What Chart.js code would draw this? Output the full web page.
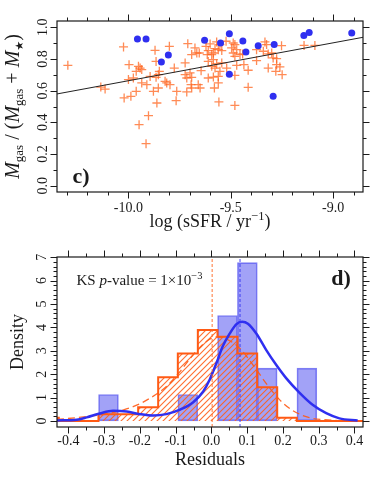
<!DOCTYPE html>
<html>
<head>
<meta charset="utf-8">
<script src="https://cdn.jsdelivr.net/npm/chart.js@4.4.0/dist/chart.umd.min.js"></script>
<style>
  html, body { margin: 0; padding: 0; background: #fff; }
  canvas { position: absolute; left: 0; }
  #topChart { top: 0; }
  #bottomChart { top: 240px; }
</style>
</head>
<body>
<canvas id="topChart" width="374" height="240"></canvas>
<canvas id="bottomChart" width="374" height="241"></canvas>
<script>
// ---- panel c) : gas fraction vs sSFR ----
const crossX = [-10.296, -10.135, -10.114, -10.024, -9.870, -9.800, -9.710, -9.675, -9.666, -9.654,
  -9.691, -9.621, -9.601, -9.610, -9.593, -9.615, -9.569, -9.553, -9.561, -9.577,
  -9.585, -9.544, -9.523, -9.488, -9.480, -9.496, -9.471, -9.488, -9.480, -9.455,
  -9.442, -9.374, -9.333, -9.325, -9.341, -9.317, -9.300, -9.276, -9.252, -9.865,
  -9.997, -9.951, -9.935, -9.943, -9.962, -9.849, -9.854, -9.894, -9.865, -9.976,
  -10.000, -9.776, -9.723, -9.723, -9.715, -9.691, -9.699, -9.645, -9.610, -9.585,
  -9.593, -9.569, -9.544, -9.610, -9.585, -9.561, -9.577, -9.553, -9.520, -9.471,
  -9.436, -9.415, -9.374, -9.317, -9.293, -9.276, -9.260, -9.280, -9.249, -9.480,
  -9.813, -9.797, -9.821, -9.854, -9.878, -9.910, -9.935, -9.764, -9.715, -9.694,
  -9.691, -9.659, -9.650, -9.580, -9.561, -9.415, -9.962, -9.988, -10.021, -9.861,
  -9.767, -9.558, -9.480, -9.902, -9.948, -9.914, -9.142, -9.089];
const crossY = [0.760, 0.623, 0.610, 0.876, 0.855, 0.880, 0.897, 0.870, 0.838, 0.838,
  0.828, 0.880, 0.895, 0.853, 0.828, 0.828, 0.908, 0.891, 0.859, 0.865,
  0.838, 0.853, 0.912, 0.901, 0.891, 0.870, 0.859, 0.838, 0.817, 0.828,
  0.832, 0.859, 0.908, 0.891, 0.849, 0.832, 0.838, 0.802, 0.884, 0.785,
  0.764, 0.754, 0.733, 0.743, 0.722, 0.722, 0.701, 0.690, 0.684, 0.680,
  0.670, 0.743, 0.775, 0.701, 0.680, 0.684, 0.712, 0.726, 0.785, 0.796,
  0.754, 0.769, 0.775, 0.680, 0.686, 0.690, 0.743, 0.722, 0.743, 0.760,
  0.764, 0.729, 0.790, 0.743, 0.807, 0.764, 0.750, 0.722, 0.701, 0.697,
  0.649, 0.638, 0.659, 0.617, 0.596, 0.638, 0.649, 0.596, 0.592, 0.638,
  0.617, 0.638, 0.617, 0.617, 0.649, 0.621, 0.596, 0.564, 0.554, 0.522,
  0.537, 0.529, 0.507, 0.442, 0.385, 0.265, 0.886, 0.886];
const dotX = [-9.956, -9.914, -9.805, -9.839, -9.628, -9.550, -9.507, -9.507,
  -9.441, -9.426, -9.366, -9.288, -9.293, -9.143, -9.117, -8.909];
const dotY = [0.926, 0.926, 0.825, 0.781, 0.918, 0.901, 0.960, 0.703,
  0.914, 0.844, 0.884, 0.891, 0.564, 0.949, 0.968, 0.964];
const fitX = [-10.35, -8.854];
const fitY = [0.579, 0.937];
const ssfrTicks = [-10.0, -9.5, -9.0];
const ssfrLabels = ['-10.0', '-9.5', '-9.0'];
const fracTicks = [0.0, 0.2, 0.4, 0.6, 0.8, 1.0];
const fracLabels = ['0.0', '0.2', '0.4', '0.6', '0.8', '1.0'];

// ---- panel d) : residual histograms ----
const binEdges = [-0.482, -0.427, -0.371, -0.316, -0.260, -0.205, -0.149, -0.094, -0.038,
  0.017, 0.073, 0.128, 0.184, 0.239, 0.295, 0.350, 0.406, 0.461];
const orangeDensity = [0.14, 0, 0, 0.29, 0.29, 0.58, 1.87, 2.88, 3.89, 3.60, 2.88, 1.44, 0.14, 0, 0, 0, 0];
const blueDensity = [0, 0, 0, 1.13, 0, 0, 0, 1.13, 0, 4.51, 6.77, 2.26, 0, 2.26, 0, 0, 0];
const kdeX = [-0.432, -0.377, -0.349, -0.312, -0.275, -0.237, -0.200, -0.163, -0.126, -0.088,
  -0.051, -0.023, -0.005, 0.014, 0.032, 0.051, 0.070, 0.086, 0.102, 0.126,
  0.153, 0.181, 0.209, 0.246, 0.283, 0.321, 0.358, 0.409];
const kdeY = [0.02, 0.05, 0.15, 0.32, 0.43, 0.40, 0.29, 0.23, 0.29, 0.48,
  0.80, 1.26, 1.76, 2.47, 3.20, 3.73, 4.14, 4.24, 4.16, 3.73,
  3.04, 2.40, 1.83, 1.21, 0.69, 0.33, 0.11, 0.02];
const normX = [-0.432, -0.358, -0.284, -0.219, -0.172, -0.126, -0.088, -0.051, -0.014, 0.014,
  0.042, 0.079, 0.116, 0.153, 0.191, 0.228, 0.274, 0.339, 0.424];
const normY = [0.06, 0.17, 0.33, 0.61, 0.97, 1.47, 2.11, 2.83, 3.40, 3.59,
  3.50, 3.11, 2.40, 1.61, 0.90, 0.44, 0.14, 0.03, 0.0];
const orangeMedian = 0.002;
const blueMedian = 0.08;
const residTicks = [-0.4, -0.3, -0.2, -0.1, 0.0, 0.1, 0.2, 0.3, 0.4];
const residLabels = ['-0.4', '-0.3', '-0.2', '-0.1', '0.0', '0.1', '0.2', '0.3', '0.4'];
const densTicks = [0, 1, 2, 3, 4, 5, 6, 7];
const densLabels = ['0', '1', '2', '3', '4', '5', '6', '7'];

const SERIF = '"Liberation Serif", "DejaVu Serif", serif';
const ORANGE = '#ff5a14';
const BLUE = '#2f2ff0';

function pts(xs, ys) { return xs.map((x, i) => ({ x: x, y: ys[i] })); }

// draw a run of text pieces with different fonts / offsets
function rich(ctx, segs, x, y, align, angle) {
  ctx.save();
  ctx.translate(x, y);
  ctx.rotate(angle || 0);
  ctx.textAlign = 'left';
  ctx.textBaseline = 'alphabetic';
  let w = 0;
  segs.forEach(s => { ctx.font = s.f; s.w = ctx.measureText(s.t).width; w += s.w; });
  let cx = align === 'left' ? 0 : -w / 2;
  segs.forEach(s => { ctx.font = s.f; ctx.fillText(s.t, cx, s.dy || 0); cx += s.w; });
  ctx.restore();
}

// frame, ticks on all four sides, tick labels and titles
function axesPlugin(spec) {
  return {
    id: 'axes',
    afterDraw(chart) {
      const { ctx, chartArea: a, scales } = chart;
      const x = scales.x, y = scales.y;
      ctx.save();
      ctx.strokeStyle = '#1a1a1a';
      ctx.fillStyle = '#1a1a1a';
      ctx.lineWidth = 1.2;
      ctx.strokeRect(a.left, a.top, a.right - a.left, a.bottom - a.top);
      ctx.lineWidth = 1;
      ctx.beginPath();
      const xt = (v, len) => {
        const p = Math.round(x.getPixelForValue(v)) + 0.5;
        ctx.moveTo(p, a.bottom); ctx.lineTo(p, a.bottom + len);
        ctx.moveTo(p, a.top); ctx.lineTo(p, a.top - len);
      };
      const yt = (v, len) => {
        const p = Math.round(y.getPixelForValue(v)) + 0.5;
        ctx.moveTo(a.left, p); ctx.lineTo(a.left - len, p);
        ctx.moveTo(a.right, p); ctx.lineTo(a.right + len, p);
      };
      spec.xMajor.forEach(v => xt(v, 6.5));
      spec.xMinor.forEach(v => xt(v, 3.5));
      spec.yMajor.forEach(v => yt(v, 6.5));
      spec.yMinor.forEach(v => yt(v, 3.5));
      ctx.stroke();

      ctx.font = '14px ' + SERIF;
      ctx.textAlign = 'center';
      ctx.textBaseline = 'alphabetic';
      spec.xMajor.forEach((v, i) => ctx.fillText(spec.xLabels[i], x.getPixelForValue(v), spec.xLabelBase));
      spec.yMajor.forEach((v, i) => {
        ctx.save();
        ctx.translate(spec.yLabelBase, y.getPixelForValue(v));
        ctx.rotate(-Math.PI / 2);
        ctx.fillText(spec.yLabels[i], 0, 0);
        ctx.restore();
      });
      const midX = (a.left + a.right) / 2, midY = (a.top + a.bottom) / 2;
      rich(ctx, spec.xTitle, midX, spec.xTitleBase, 'center', 0);
      rich(ctx, spec.yTitle, spec.yTitleBase, midY, 'center', -Math.PI / 2);
      spec.notes.forEach(n => rich(ctx, n.segs, n.x, n.y, n.align, 0));
      ctx.restore();
    }
  };
}

const minors = (from, to, step, skip) => {
  const out = [];
  for (let v = from; v <= to + 1e-9; v += step) {
    const r = Math.round(v * 1000) / 1000;
    if (!skip.some(s => Math.abs(s - r) < 1e-6)) out.push(r);
  }
  return out;
};

// ---------- top chart ----------
new Chart(document.getElementById('topChart'), {
  type: 'scatter',
  data: {
    datasets: [
      {
        data: pts(crossX, crossY), pointStyle: 'cross', pointRadius: 4.5,
        borderColor: 'rgba(255,100,30,0.75)', borderWidth: 1.3, order: 3
      },
      {
        type: 'line', data: pts(fitX, fitY), borderColor: '#222', borderWidth: 1,
        pointRadius: 0, order: 2
      },
      {
        data: pts(dotX, dotY), pointStyle: 'circle', pointRadius: 3.5,
        backgroundColor: BLUE, borderWidth: 0, order: 1
      }
    ]
  },
  options: {
    responsive: false, animation: false, devicePixelRatio: 1,
    layout: { padding: { left: 57, right: 11, top: 21, bottom: 48 } },
    plugins: { legend: { display: false }, tooltip: { enabled: false } },
    scales: {
      x: { type: 'linear', display: false, min: -10.349, max: -8.854 },
      y: { type: 'linear', display: false, min: -0.04, max: 1.04 }
    }
  },
  plugins: [axesPlugin({
    xMajor: ssfrTicks, xLabels: ssfrLabels, xMinor: minors(-10.3, -8.9, 0.1, ssfrTicks), xLabelBase: 211.5,
    yMajor: fracTicks, yLabels: fracLabels, yMinor: [0.1, 0.3, 0.5, 0.7, 0.9], yLabelBase: 46.5,
    xTitle: [
      { t: 'log (sSFR / yr', f: '18px ' + SERIF },
      { t: '\u22121', f: '12.5px ' + SERIF, dy: -7 },
      { t: ')', f: '18px ' + SERIF }
    ],
    xTitleBase: 226.5,
    yTitle: [
      { t: 'M', f: 'italic 20px ' + SERIF },
      { t: 'gas', f: '13px ' + SERIF, dy: 4 },
      { t: ' / (', f: '20px ' + SERIF },
      { t: 'M', f: 'italic 20px ' + SERIF },
      { t: 'gas', f: '13px ' + SERIF, dy: 4 },
      { t: ' + ', f: '20px ' + SERIF },
      { t: 'M', f: 'italic 20px ' + SERIF },
      { t: '\u2605', f: '11px "DejaVu Sans", sans-serif', dy: 4 },
      { t: ')', f: '20px ' + SERIF }
    ],
    yTitleBase: 18.5,
    notes: [{ segs: [{ t: 'c)', f: 'bold 22px ' + SERIF }], x: 72.5, y: 183, align: 'left' }]
  })]
});

// ---------- bottom chart ----------
// diagonal hatching under the orange step histogram (dataset index 1)
const hatchPlugin = {
  id: 'hatch',
  beforeDatasetDraw(chart, args) {
    if (args.index !== 1) return;
    const { ctx, chartArea: a } = chart;
    const p = args.meta.data;
    const y0 = chart.scales.y.getPixelForValue(0);
    ctx.save();
    ctx.beginPath();
    ctx.rect(a.left, a.top, a.right - a.left, a.bottom - a.top);
    ctx.clip();
    ctx.beginPath();
    ctx.moveTo(p[0].x, y0);
    for (let i = 0; i < p.length; i++) {
      if (i > 0) ctx.lineTo(p[i].x, p[i - 1].y);
      ctx.lineTo(p[i].x, p[i].y);
    }
    ctx.lineTo(p[p.length - 1].x, y0);
    ctx.closePath();
    ctx.clip();
    ctx.strokeStyle = 'rgba(255,95,25,0.9)';
    ctx.lineWidth = 1.1;
    ctx.beginPath();
    const h = a.bottom - a.top;
    for (let c = a.left - h; c < a.right; c += 6) {
      ctx.moveTo(c, a.bottom);
      ctx.lineTo(c + h, a.top);
    }
    ctx.stroke();
    ctx.restore();
  }
};

const binCenters = binEdges.slice(0, -1).map((e, i) => (e + binEdges[i + 1]) / 2);
const orangeSteps = binEdges.map((e, i) => ({ x: e, y: i < orangeDensity.length ? orangeDensity[i] : 0 }));

new Chart(document.getElementById('bottomChart'), {
  type: 'scatter',
  data: {
    datasets: [
      {
        type: 'bar', data: pts(binCenters, blueDensity), barPercentage: 1, categoryPercentage: 1,
        backgroundColor: 'rgba(85,85,240,0.55)', borderColor: 'rgba(90,90,240,0.75)',
        borderWidth: 1, borderSkipped: false, order: 5
      },
      {
        type: 'line', data: orangeSteps, stepped: true, fill: false,
        borderColor: ORANGE, borderWidth: 2, pointRadius: 0, order: 4
      },
      {
        type: 'line', data: pts(normX, normY), borderColor: 'rgba(255,90,20,0.9)', borderWidth: 1.3,
        borderDash: [7, 4], pointRadius: 0, cubicInterpolationMode: 'monotone', order: 3
      },
      {
        type: 'line', data: pts(kdeX, kdeY), borderColor: BLUE, borderWidth: 2.5,
        pointRadius: 0, cubicInterpolationMode: 'monotone', order: 2
      },
      {
        type: 'line', data: [{ x: orangeMedian, y: -0.26 }, { x: orangeMedian, y: 7.01 }],
        borderColor: 'rgba(255,100,30,0.9)', borderWidth: 1, borderDash: [3, 2], pointRadius: 0, order: 1
      },
      {
        type: 'line', data: [{ x: blueMedian, y: -0.26 }, { x: blueMedian, y: 7.01 }],
        borderColor: 'rgba(50,50,240,0.9)', borderWidth: 1, borderDash: [3, 2], pointRadius: 0, order: 1
      }
    ]
  },
  options: {
    responsive: false, animation: false, devicePixelRatio: 1,
    layout: { padding: { left: 57, right: 11, top: 17, bottom: 54 } },
    plugins: { legend: { display: false }, tooltip: { enabled: false } },
    scales: {
      x: { type: 'linear', display: false, offset: false, min: -0.432, max: 0.424 },
      y: { type: 'linear', display: false, min: -0.26, max: 7.01 }
    }
  },
  plugins: [hatchPlugin, axesPlugin({
    xMajor: residTicks, xLabels: residLabels, xMinor: minors(-0.35, 0.35, 0.1, []), xLabelBase: 205,
    yMajor: densTicks, yLabels: densLabels, yMinor: minors(0.2, 6.8, 0.2, densTicks), yLabelBase: 45.5,
    xTitle: [{ t: 'Residuals', f: '18px ' + SERIF }],
    xTitleBase: 225,
    yTitle: [{ t: 'Density', f: '18px ' + SERIF }],
    yTitleBase: 22.5,
    notes: [
      {
        segs: [
          { t: 'KS ', f: '15px ' + SERIF },
          { t: 'p', f: 'italic 15px ' + SERIF },
          { t: '-value = 1\u00d710', f: '15px ' + SERIF },
          { t: '\u22123', f: '10.5px ' + SERIF, dy: -6 }
        ],
        x: 76.5, y: 44.5, align: 'left'
      },
      { segs: [{ t: 'd)', f: 'bold 22px ' + SERIF }], x: 341, y: 45, align: 'center' }
    ]
  })]
});
</script>
</body>
</html>
